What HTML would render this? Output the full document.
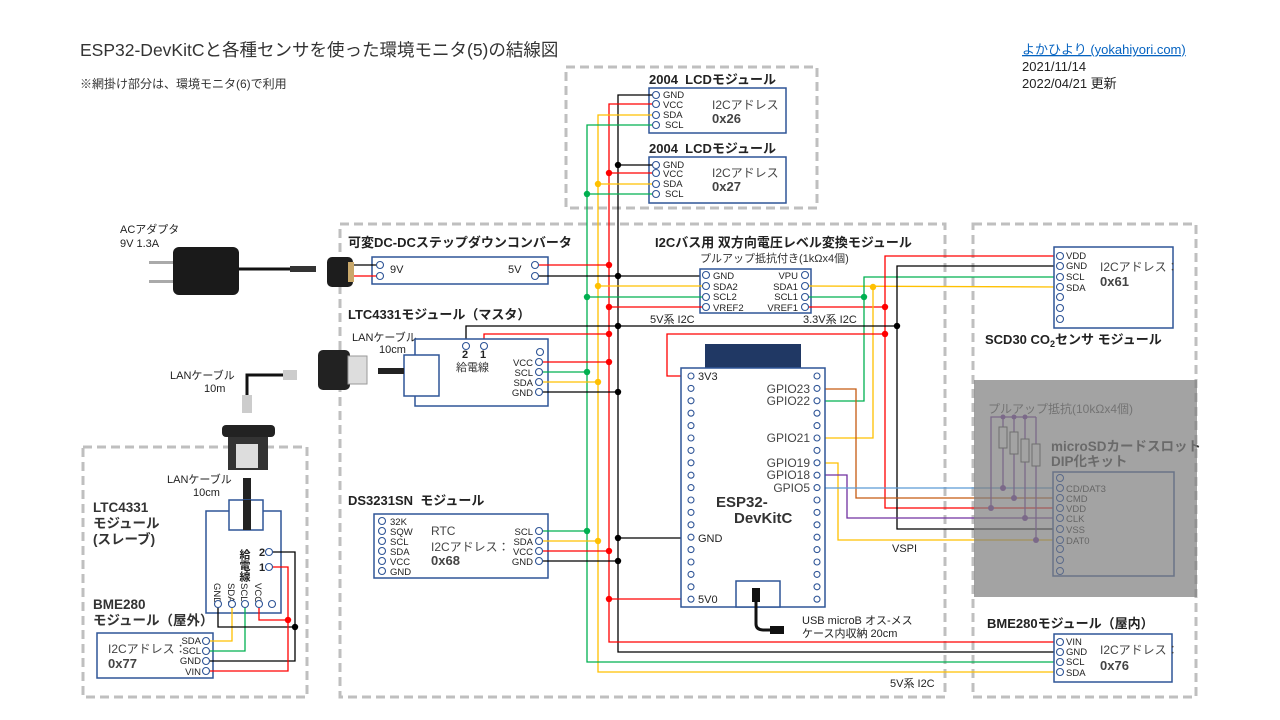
<!DOCTYPE html>
<html><head><meta charset="utf-8"><style>
html,body{margin:0;padding:0;background:#fff;width:1280px;height:720px;overflow:hidden}
svg{display:block;font-family:"Liberation Sans","Noto Sans CJK JP",sans-serif}
.p{fill:#fff;stroke:#2f5597;stroke-width:1.1}
.bx{fill:#fff;stroke:#2f5597;stroke-width:1.5}
.dash{fill:none;stroke:#bfbfbf;stroke-width:3;stroke-dasharray:9,5}
.w{fill:none;stroke-width:1.3}
.r{stroke:#ff0000}.k{stroke:#000}.g{stroke:#00b050}.y{stroke:#ffc000}.o{stroke:#c55a11}.pu{stroke:#7030a0}.b{stroke:#5b9bd5}
.t{font-size:9.5px;fill:#222}
.tt{font-size:13px;font-weight:bold;fill:#222}
.m{font-size:12px;fill:#444}
.mb{font-size:13px;font-weight:bold;fill:#444}
</style></head><body>
<svg width="1280" height="720" viewBox="0 0 1280 720">
<text x="80" y="56" font-size="17.5" fill="#333">ESP32-DevKitCと各種センサを使った環境モニタ(5)の結線図</text>
<text x="80" y="88" font-size="12" fill="#333">※網掛け部分は、環境モニタ(6)で利用</text>
<text x="1022" y="54" font-size="13" fill="#0563c1" text-decoration="underline">よかひより (yokahiyori.com)</text>
<text x="1022" y="71" font-size="13" fill="#222">2021/11/14</text>
<text x="1022" y="88" font-size="13" fill="#222">2022/04/21 更新</text>

<rect class="dash" x="566" y="67" width="251" height="141"/>
<rect class="dash" x="340" y="224" width="605" height="473"/>
<rect class="dash" x="973" y="224" width="223" height="473"/>
<rect class="dash" x="83" y="447" width="224" height="250"/>

<text class="tt" x="649" y="84">2004&#160; LCDモジュール</text>
<rect class="bx" x="649" y="88" width="137" height="45"/>
<text class="tt" x="649" y="153">2004&#160; LCDモジュール</text>
<rect class="bx" x="649" y="157" width="137" height="46"/>
<text class="m" x="712" y="109">I2Cアドレス</text><text class="mb" x="712" y="123">0x26</text>
<text class="m" x="712" y="177">I2Cアドレス</text><text class="mb" x="712" y="191">0x27</text>

<polyline class="w k" points="656,95 618,95 618,652 1060,652"/>
<polyline class="w r" points="656,104 609,104 609,642 1060,642"/>
<polyline class="w y" points="656,115 598,115 598,672 1060,672"/>
<polyline class="w g" points="656,125 587,125 587,662 1060,662"/>
<line class="w k" x1="618" y1="165" x2="656" y2="165"/>
<line class="w r" x1="609" y1="173" x2="656" y2="173"/>
<line class="w y" x1="598" y1="184" x2="656" y2="184"/>
<line class="w g" x1="587" y1="194" x2="656" y2="194"/>

<text class="tt" x="348" y="247">可変DC-DCステップダウンコンバータ</text>
<rect class="bx" x="372" y="257" width="176" height="27"/>
<line class="w k" x1="350" y1="265" x2="380" y2="265"/>
<line class="w r" x1="350" y1="276" x2="380" y2="276"/>
<line class="w r" x1="535" y1="265" x2="609" y2="265"/>
<line class="w k" x1="535" y1="276" x2="706" y2="276"/>

<text class="tt" x="655" y="247">I2Cバス用 双方向電圧レベル変換モジュール</text>
<text x="700" y="262" font-size="11" fill="#333">プルアップ抵抗付き(1kΩx4個)</text>
<rect class="bx" x="700" y="269" width="111" height="44"/>
<line class="w y" x1="598" y1="286" x2="706" y2="286"/>
<line class="w g" x1="587" y1="297" x2="706" y2="297"/>
<line class="w r" x1="609" y1="307" x2="706" y2="307"/>
<polyline class="w y" points="805,286 1060,287"/>
<polyline class="w g" points="805,297 864,297"/>
<line class="w r" x1="805" y1="307" x2="885" y2="307"/>

<polyline class="w g" points="817,401 864,401 864,277 1060,277"/>
<polyline class="w y" points="817,438 873,438 873,287"/>
<polyline class="w r" points="1060,256 885,256 885,508 1060,508"/>
<polyline class="w k" points="1060,266 897,266 897,529 1060,529"/>
<polyline class="w r" points="691,376 667,376 667,334 885,334"/>
<polyline class="w k" points="466,346 466,326 897,326"/>
<polyline class="w r" points="484,346 484,334 609,334"/>
<text x="650" y="323" font-size="11" fill="#222">5V系 I2C</text>
<text x="803" y="323" font-size="11" fill="#222">3.3V系 I2C</text>

<polyline class="w o" points="817,389 856,389 856,498 1060,498"/>
<polyline class="w y" points="817,463 838,463 838,540 1060,540"/>
<polyline class="w pu" points="817,475 847,475 847,518 1060,518"/>
<line class="w b" x1="817" y1="488" x2="1060" y2="488"/>
<text x="892" y="552" font-size="11" fill="#222">VSPI</text>
<text x="890" y="687" font-size="11" fill="#222">5V系 I2C</text>

<text class="tt" x="348" y="319">LTC4331モジュール（マスタ）</text>
<text x="352" y="341" font-size="11" fill="#222">LANケーブル</text>
<text x="379" y="353" font-size="11" fill="#222">10cm</text>
<rect class="bx" x="415" y="339" width="133" height="67"/>
<rect class="bx" x="404" y="355" width="35" height="41"/>
<line class="w r" x1="539" y1="362" x2="609" y2="362"/>
<line class="w g" x1="539" y1="372" x2="587" y2="372"/>
<line class="w y" x1="539" y1="382" x2="598" y2="382"/>
<line class="w k" x1="539" y1="392" x2="618" y2="392"/>
<text x="462" y="358" font-size="11" font-weight="bold" fill="#222">2</text>
<text x="480" y="358" font-size="11" font-weight="bold" fill="#222">1</text>
<text x="456" y="371" font-size="11" fill="#333">給電線</text>
<g class="t" text-anchor="end"><text x="533" y="366">VCC</text><text x="533" y="376">SCL</text><text x="533" y="386">SDA</text><text x="533" y="396">GND</text></g>

<text class="tt" x="348" y="505">DS3231SN&#160; モジュール</text>
<rect class="bx" x="374" y="514" width="174" height="64"/>
<g class="t"><text x="390" y="525">32K</text><text x="390" y="535">SQW</text><text x="390" y="545">SCL</text><text x="390" y="555">SDA</text><text x="390" y="565">VCC</text><text x="390" y="575">GND</text></g>
<text class="m" x="431" y="535">RTC</text><text class="m" x="431" y="551">I2Cアドレス：</text><text class="mb" x="431" y="565">0x68</text>
<g class="t" text-anchor="end"><text x="533" y="535">SCL</text><text x="533" y="545">SDA</text><text x="533" y="555">VCC</text><text x="533" y="565">GND</text></g>
<line class="w g" x1="539" y1="531" x2="587" y2="531"/>
<line class="w y" x1="539" y1="541" x2="598" y2="541"/>
<line class="w r" x1="539" y1="551" x2="609" y2="551"/>
<line class="w k" x1="539" y1="561" x2="618" y2="561"/>
<line class="w k" x1="618" y1="538" x2="691" y2="538"/>
<line class="w r" x1="609" y1="599" x2="691" y2="599"/>

<rect x="705" y="344" width="96" height="24" fill="#203864"/>
<rect class="bx" x="681" y="368" width="144" height="239"/>
<g class="t"><text x="698" y="380" font-size="11">3V3</text><text x="698" y="542" font-size="11">GND</text><text x="698" y="603" font-size="11">5V0</text></g>
<g class="m" font-size="11" text-anchor="end"><text x="810" y="393">GPIO23</text><text x="810" y="405">GPIO22</text><text x="810" y="442">GPIO21</text><text x="810" y="467">GPIO19</text><text x="810" y="479">GPIO18</text><text x="810" y="492">GPIO5</text></g>
<text x="716" y="507" font-size="15" font-weight="bold" fill="#333">ESP32-</text>
<text x="734" y="523" font-size="15" font-weight="bold" fill="#333">DevKitC</text>
<rect class="bx" x="736" y="581" width="44" height="26"/>
<path d="M756,600 L756,624 Q756,630 764,630 L772,630" stroke="#111" stroke-width="3" fill="none"/>
<rect x="752" y="588" width="8" height="14" fill="#111"/>
<rect x="770" y="626" width="14" height="8" fill="#111"/>
<text x="802" y="624" font-size="11" fill="#222">USB microB オス-メス</text>
<text x="802" y="637" font-size="11" fill="#222">ケース内収納 20cm</text>

<rect class="bx" x="1054" y="247" width="119" height="81"/>
<g class="t"><text x="1066" y="259">VDD</text><text x="1066" y="269">GND</text><text x="1066" y="280">SCL</text><text x="1066" y="291">SDA</text></g>
<text class="m" x="1100" y="271">I2Cアドレス：</text><text class="mb" x="1100" y="286">0x61</text>
<text class="tt" x="985" y="344">SCD30  CO<tspan font-size="9" dy="3">2</tspan><tspan dy="-3">センサ モジュール</tspan></text>

<rect class="bx" x="1053" y="472" width="121" height="104"/>
<g class="t"><text x="1066" y="492">CD/DAT3</text><text x="1066" y="502">CMD</text><text x="1066" y="512">VDD</text><text x="1066" y="522">CLK</text><text x="1066" y="533">VSS</text><text x="1066" y="544">DAT0</text></g>
<text x="988" y="413" font-size="12" fill="#555">プルアップ抵抗(10kΩx4個)</text>
<g class="w pu" stroke-width="1.2">
<polyline points="991,508 991,417 1036,417"/>
<line x1="1003" y1="417" x2="1003" y2="488"/><line x1="1014" y1="417" x2="1014" y2="498"/><line x1="1025" y1="417" x2="1025" y2="518"/><line x1="1036" y1="417" x2="1036" y2="540"/>
</g>
<g fill="#fff" stroke="#444" stroke-width="1"><rect x="999" y="427" width="8" height="21"/><rect x="1010" y="432" width="8" height="22"/><rect x="1021" y="439" width="8" height="23"/><rect x="1032" y="444" width="8" height="22"/></g>
<g fill="#7030a0"><circle cx="1003" cy="417" r="2.5"/><circle cx="1014" cy="417" r="2.5"/><circle cx="1025" cy="417" r="2.5"/><circle cx="1003" cy="488" r="3"/><circle cx="1014" cy="498" r="3"/><circle cx="991" cy="508" r="3"/><circle cx="1025" cy="518" r="3"/><circle cx="1036" cy="540" r="3"/></g>
<text x="1051" y="451" font-size="13.5" font-weight="bold" fill="#333">microSDカードスロット</text>
<text x="1051" y="466" font-size="13.5" font-weight="bold" fill="#333">DIP化キット</text>
<rect x="974" y="380" width="223" height="217" fill="rgba(128,128,128,0.72)"/>

<text class="tt" x="987" y="628">BME280モジュール（屋内）</text>
<rect class="bx" x="1054" y="634" width="118" height="48"/>
<g class="t"><text x="1066" y="645">VIN</text><text x="1066" y="655">GND</text><text x="1066" y="665">SCL</text><text x="1066" y="676">SDA</text></g>
<text class="m" x="1100" y="654">I2Cアドレス：</text><text class="mb" x="1100" y="670">0x76</text>

<text x="120" y="233" font-size="11" fill="#222">ACアダプタ</text>
<text x="120" y="247" font-size="11" fill="#222">9V 1.3A</text>
<rect x="149" y="261" width="25" height="3" fill="#aaa"/><rect x="149" y="280" width="25" height="3" fill="#aaa"/>
<rect x="173" y="247" width="66" height="48" rx="6" fill="#1a1a1a"/>
<line x1="239" y1="269" x2="300" y2="269" stroke="#111" stroke-width="3"/>
<rect x="290" y="266" width="26" height="6" fill="#333"/>
<rect x="327" y="257" width="26" height="30" rx="5" fill="#1d1d1d"/>
<rect x="348" y="262" width="6" height="20" fill="#c9a86a"/>
<rect x="318" y="350" width="32" height="40" rx="5" fill="#222"/>
<rect x="348" y="356" width="19" height="28" fill="#ddd" stroke="#999"/>
<rect x="378" y="368" width="26" height="6" fill="#222"/>
<polyline points="293,375 247,375 247,395" stroke="#111" stroke-width="3" fill="none"/>
<rect x="283" y="370" width="14" height="10" fill="#ccc"/>
<rect x="242" y="395" width="10" height="18" fill="#ccc"/>
<text x="170" y="379" font-size="11" fill="#222">LANケーブル</text>
<text x="204" y="392" font-size="11" fill="#222">10m</text>
<rect x="222" y="425" width="53" height="12" rx="4" fill="#222"/>
<rect x="228" y="437" width="40" height="33" fill="#333"/>
<rect x="236" y="444" width="22" height="24" fill="#ddd"/>
<rect x="243" y="478" width="8" height="40" fill="#222"/>

<text x="167" y="483" font-size="11" fill="#222">LANケーブル</text>
<text x="193" y="496" font-size="11" fill="#222">10cm</text>
<text x="93" y="512" font-size="13.5" font-weight="bold" fill="#333">LTC4331</text>
<text x="93" y="528" font-size="13.5" font-weight="bold" fill="#333">モジュール</text>
<text x="93" y="544" font-size="13.5" font-weight="bold" fill="#333">(スレーブ)</text>
<rect class="bx" x="206" y="511" width="75" height="102"/>
<rect class="bx" x="229" y="500" width="34" height="30"/>
<rect x="243" y="500" width="8" height="30" fill="#222"/>
<text x="259" y="556" font-size="11" font-weight="bold" fill="#222">2</text>
<text x="259" y="571" font-size="11" font-weight="bold" fill="#222">1</text>
<text x="244" y="549" font-size="11" font-weight="bold" fill="#222" writing-mode="tb">給電線</text>
<g class="t" font-size="9"><text transform="translate(214,583) rotate(90)">GND</text><text transform="translate(228,583) rotate(90)">SDA</text><text transform="translate(241,583) rotate(90)">SCL</text><text transform="translate(255,583) rotate(90)">VCC</text></g>
<text x="93" y="609" font-size="13.5" font-weight="bold" fill="#333">BME280</text>
<text x="93" y="625" font-size="13.5" font-weight="bold" fill="#333">モジュール（屋外）</text>
<rect class="bx" x="97" y="633" width="116" height="45"/>
<g class="t" text-anchor="end"><text x="201" y="644">SDA</text><text x="201" y="654">SCL</text><text x="201" y="664">GND</text><text x="201" y="675">VIN</text></g>
<text class="m" x="108" y="653">I2Cアドレス：</text><text class="mb" x="108" y="668">0x77</text>
<polyline class="w y" points="232,604 232,641 206,641"/>
<polyline class="w g" points="245,604 245,651 206,651"/>
<polyline class="w k" points="218,604 218,627 295,627"/>
<polyline class="w r" points="259,604 259,620 288,620"/>
<polyline class="w k" points="271,552 295,552 295,661 206,661"/>
<polyline class="w r" points="271,567 288,567 288,671 206,671"/>

<g class="p">
<circle cx="656" cy="95" r="3.5"/><circle cx="656" cy="104" r="3.5"/><circle cx="656" cy="115" r="3.5"/><circle cx="656" cy="125" r="3.5"/>
<circle cx="656" cy="165" r="3.5"/><circle cx="656" cy="173" r="3.5"/><circle cx="656" cy="184" r="3.5"/><circle cx="656" cy="194" r="3.5"/>
<circle cx="380" cy="265" r="3.5"/><circle cx="380" cy="276" r="3.5"/><circle cx="535" cy="265" r="3.5"/><circle cx="535" cy="276" r="3.5"/>
<circle cx="706" cy="275" r="3.5"/><circle cx="706" cy="286" r="3.5"/><circle cx="706" cy="297" r="3.5"/><circle cx="706" cy="307" r="3.5"/>
<circle cx="805" cy="275" r="3.5"/><circle cx="805" cy="286" r="3.5"/><circle cx="805" cy="297" r="3.5"/><circle cx="805" cy="307" r="3.5"/>
<circle cx="466" cy="346" r="3.5"/><circle cx="484" cy="346" r="3.5"/><circle cx="540" cy="352" r="3.5"/>
<circle cx="539" cy="362" r="3.5"/><circle cx="539" cy="372" r="3.5"/><circle cx="539" cy="382" r="3.5"/><circle cx="539" cy="392" r="3.5"/>
<circle cx="382" cy="521" r="3.5"/><circle cx="382" cy="531" r="3.5"/><circle cx="382" cy="541" r="3.5"/><circle cx="382" cy="551" r="3.5"/><circle cx="382" cy="561" r="3.5"/><circle cx="382" cy="571" r="3.5"/>
<circle cx="539" cy="531" r="3.5"/><circle cx="539" cy="541" r="3.5"/><circle cx="539" cy="551" r="3.5"/><circle cx="539" cy="561" r="3.5"/>
<circle cx="1060" cy="256" r="3.5"/><circle cx="1060" cy="266" r="3.5"/><circle cx="1060" cy="277" r="3.5"/><circle cx="1060" cy="287" r="3.5"/><circle cx="1060" cy="297" r="3.5"/><circle cx="1060" cy="308" r="3.5"/><circle cx="1060" cy="319" r="3.5"/>
<circle cx="1060" cy="642" r="3.5"/><circle cx="1060" cy="652" r="3.5"/><circle cx="1060" cy="662" r="3.5"/><circle cx="1060" cy="672" r="3.5"/>
<circle cx="269" cy="552" r="3.5"/><circle cx="269" cy="567" r="3.5"/>
<circle cx="218" cy="604" r="3.5"/><circle cx="232" cy="604" r="3.5"/><circle cx="245" cy="604" r="3.5"/><circle cx="259" cy="604" r="3.5"/><circle cx="272" cy="604" r="3.5"/>
<circle cx="206" cy="641" r="3.5"/><circle cx="206" cy="651" r="3.5"/><circle cx="206" cy="661" r="3.5"/><circle cx="206" cy="671" r="3.5"/>
<circle cx="691" cy="376" r="3"/><circle cx="691" cy="388.4" r="3"/><circle cx="691" cy="400.8" r="3"/><circle cx="691" cy="413.2" r="3"/><circle cx="691" cy="425.6" r="3"/><circle cx="691" cy="438" r="3"/><circle cx="691" cy="450.4" r="3"/><circle cx="691" cy="462.8" r="3"/><circle cx="691" cy="475.2" r="3"/><circle cx="691" cy="487.6" r="3"/><circle cx="691" cy="500" r="3"/><circle cx="691" cy="512.4" r="3"/><circle cx="691" cy="524.8" r="3"/><circle cx="691" cy="537.2" r="3"/><circle cx="691" cy="549.6" r="3"/><circle cx="691" cy="562" r="3"/><circle cx="691" cy="574.4" r="3"/><circle cx="691" cy="586.8" r="3"/><circle cx="691" cy="599.2" r="3"/>
<circle cx="817" cy="376" r="3"/><circle cx="817" cy="388.4" r="3"/><circle cx="817" cy="400.8" r="3"/><circle cx="817" cy="413.2" r="3"/><circle cx="817" cy="425.6" r="3"/><circle cx="817" cy="438" r="3"/><circle cx="817" cy="450.4" r="3"/><circle cx="817" cy="462.8" r="3"/><circle cx="817" cy="475.2" r="3"/><circle cx="817" cy="487.6" r="3"/><circle cx="817" cy="500" r="3"/><circle cx="817" cy="512.4" r="3"/><circle cx="817" cy="524.8" r="3"/><circle cx="817" cy="537.2" r="3"/><circle cx="817" cy="549.6" r="3"/><circle cx="817" cy="562" r="3"/><circle cx="817" cy="574.4" r="3"/><circle cx="817" cy="586.8" r="3"/><circle cx="817" cy="599.2" r="3"/>
</g>
<g fill="none" stroke="#5a6a8a" stroke-width="1"><circle cx="1060" cy="478" r="3.5"/><circle cx="1060" cy="488" r="3.5"/><circle cx="1060" cy="498" r="3.5"/><circle cx="1060" cy="508" r="3.5"/><circle cx="1060" cy="518" r="3.5"/><circle cx="1060" cy="529" r="3.5"/><circle cx="1060" cy="540" r="3.5"/><circle cx="1060" cy="549" r="3.5"/><circle cx="1060" cy="560" r="3.5"/><circle cx="1060" cy="571" r="3.5"/></g>

<g fill="#ff0000"><circle cx="609" cy="173" r="3.2"/><circle cx="609" cy="265" r="3.2"/><circle cx="609" cy="307" r="3.2"/><circle cx="609" cy="334" r="3.2"/><circle cx="609" cy="362" r="3.2"/><circle cx="609" cy="551" r="3.2"/><circle cx="609" cy="599" r="3.2"/><circle cx="885" cy="307" r="3.2"/><circle cx="885" cy="334" r="3.2"/><circle cx="288" cy="620" r="3.2"/></g>
<g fill="#000"><circle cx="618" cy="165" r="3.2"/><circle cx="618" cy="276" r="3.2"/><circle cx="618" cy="326" r="3.2"/><circle cx="618" cy="392" r="3.2"/><circle cx="618" cy="538" r="3.2"/><circle cx="618" cy="561" r="3.2"/><circle cx="897" cy="326" r="3.2"/><circle cx="295" cy="627" r="3.2"/></g>
<g fill="#ffc000"><circle cx="598" cy="184" r="3.2"/><circle cx="598" cy="286" r="3.2"/><circle cx="598" cy="382" r="3.2"/><circle cx="598" cy="541" r="3.2"/><circle cx="873" cy="287" r="3.2"/></g>
<g fill="#00b050"><circle cx="587" cy="194" r="3.2"/><circle cx="587" cy="297" r="3.2"/><circle cx="587" cy="372" r="3.2"/><circle cx="587" cy="531" r="3.2"/><circle cx="864" cy="297" r="3.2"/></g>

<g class="t"><text x="663" y="98">GND</text><text x="663" y="108">VCC</text><text x="663" y="118">SDA</text><text x="665" y="128">SCL</text>
<text x="663" y="168">GND</text><text x="663" y="177">VCC</text><text x="663" y="187">SDA</text><text x="665" y="197">SCL</text>
<text x="390" y="273" font-size="11">9V</text>
<text x="713" y="279">GND</text><text x="713" y="290">SDA2</text><text x="713" y="300">SCL2</text><text x="713" y="311">VREF2</text></g>
<text x="508" y="273" font-size="11" fill="#222">5V</text>
<g class="t" text-anchor="end"><text x="798" y="279">VPU</text><text x="798" y="290">SDA1</text><text x="798" y="300">SCL1</text><text x="798" y="311">VREF1</text></g>
</svg>
</body></html>
